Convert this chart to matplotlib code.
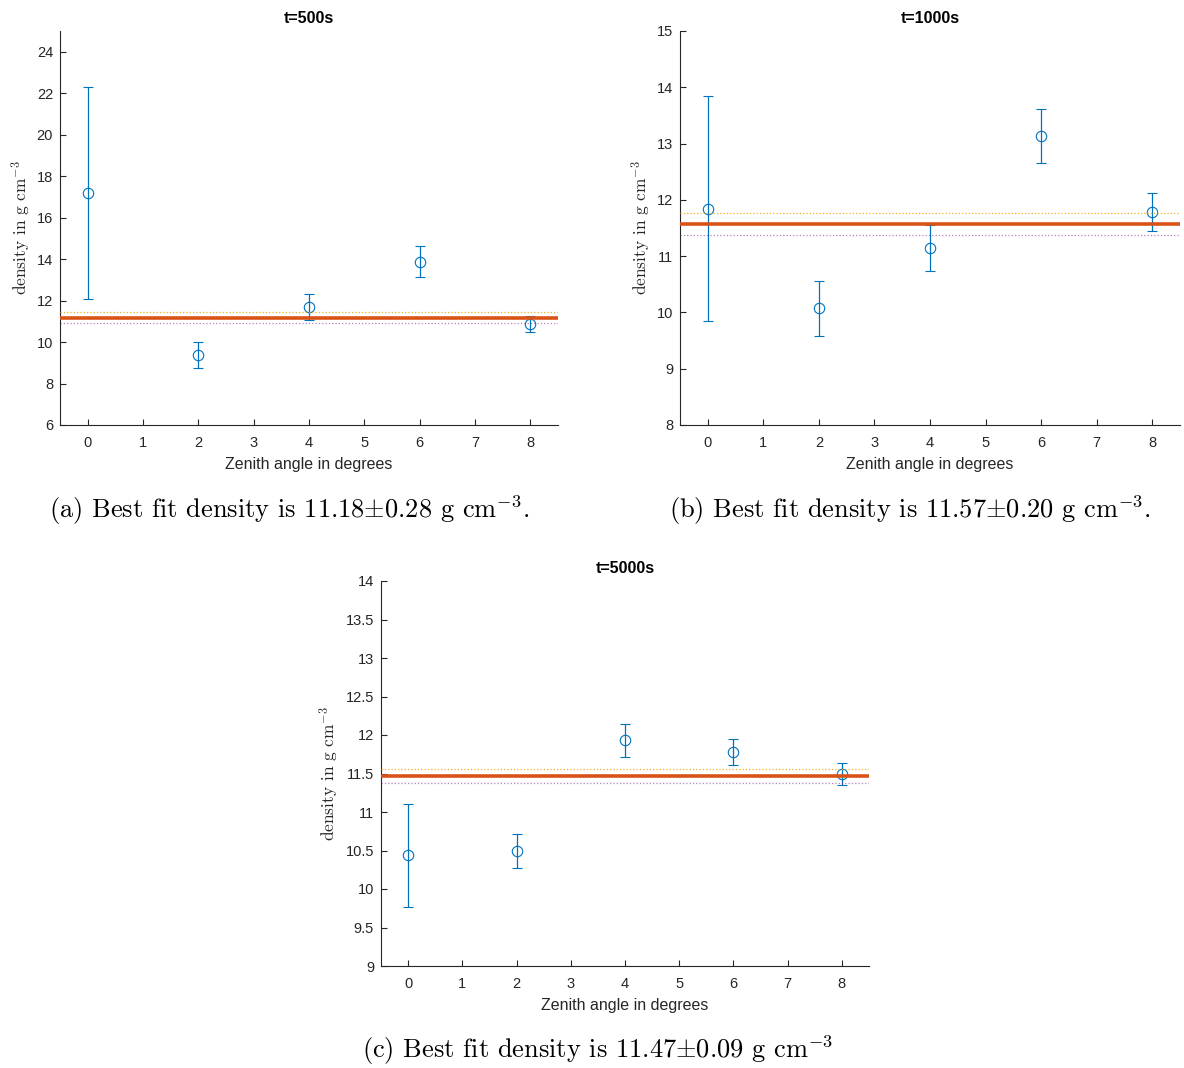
import matplotlib
matplotlib.use('Agg')

import numpy as np
import matplotlib.pyplot as plt

plt.rcParams['mathtext.fontset'] = 'cm'
plt.rcParams['font.family'] = ['Liberation Sans', 'DejaVu Sans']

# ─── Data ───
angles = [0, 2, 4, 6, 8]

titles = ['t=500s', 't=1000s', 't=5000s']

dens_500 = [17.2, 9.38, 11.7, 13.88, 10.88]
err_500 = [5.1, 0.63, 0.62, 0.73, 0.40]
fit_500, fit_err_500 = 11.18, 0.28

dens_1000 = [11.84, 10.07, 11.15, 13.14, 11.79]
err_1000 = [2.0, 0.49, 0.41, 0.48, 0.34]
fit_1000, fit_err_1000 = 11.57, 0.20

dens_5000 = [10.44, 10.49, 11.93, 11.78, 11.49]
err_5000 = [0.67, 0.22, 0.215, 0.17, 0.145]
fit_5000, fit_err_5000 = 11.47, 0.09

ylims = [(6, 25), (8, 15), (9, 14)]
yticks = [np.arange(6, 25, 2), np.arange(8, 15.1, 1), np.arange(9, 14.01, 0.5)]

captions = [
    r'(a) Best fit density is $11.18{\pm}0.28$ g cm$^{-3}$.',
    r'(b) Best fit density is $11.57{\pm}0.20$ g cm$^{-3}$.',
    r'(c) Best fit density is $11.47{\pm}0.09$ g cm$^{-3}$',
]

BLUE = '#0072BD'
ORANGE = '#D95319'
YELLOW = '#EDB120'
PURPLE = '#7E2F8E'
DARK = '#262626'

W, H = 1184, 1068
fig = plt.figure(figsize=(W / 100, H / 100), dpi=100)


def px_axes(left, top, right, bottom):
    return fig.add_axes([left / W, 1 - bottom / H, (right - left) / W, (bottom - top) / H])


boxes = [(60, 31, 558, 425), (680, 31, 1180, 425), (381, 581, 869, 966)]
series = [(dens_500, err_500, fit_500, fit_err_500),
          (dens_1000, err_1000, fit_1000, fit_err_1000),
          (dens_5000, err_5000, fit_5000, fit_err_5000)]

for box, (dens, err, fit, ferr), title, ylim, yt in zip(boxes, series, titles, ylims, yticks):
    ax = px_axes(*box)
    ax.errorbar(angles, dens, yerr=err, fmt='o', mfc='none', mec=BLUE, color=BLUE,
                ms=7.5, mew=0.8, elinewidth=0.9, capsize=3.6, capthick=0.9, zorder=2)
    ax.axhline(fit, color=ORANGE, lw=2.6, zorder=4)
    ax.axhline(fit + ferr, color=YELLOW, lw=0.9, ls=':', zorder=3)
    ax.axhline(fit - ferr, color=PURPLE, lw=0.9, ls=':', alpha=0.6, zorder=3)

    ax.set_xlim(-0.5, 8.5)
    ax.set_ylim(*ylim)
    ax.set_xticks(range(0, 9))
    ax.set_yticks(yt)
    if ylim[0] == 9:
        ax.set_yticklabels([f'{v:g}' for v in yt])
    ax.tick_params(direction='in', length=4, width=0.8, colors=DARK, labelsize=10.5)
    ax.tick_params(axis='x', pad=8)
    ax.tick_params(axis='y', pad=5)
    for side in ['top', 'right']:
        ax.spines[side].set_visible(False)
    for side in ['left', 'bottom']:
        ax.spines[side].set_color(DARK)
        ax.spines[side].set_linewidth(0.8)

    ax.set_title(title, fontsize=11.5, fontweight='bold', color='black', pad=6)
    ax.set_xlabel('Zenith angle in degrees', fontsize=11.5, color=DARK, labelpad=5)
    ax.set_ylabel(r'density in g cm$^{-3}$', fontsize=12.5, color=DARK,
                  family='cmr10', labelpad=3)

# captions under each panel
cap_pos = [(289, 510), (910, 510), (598, 1050)]
for (cx, cy), txt in zip(cap_pos, captions):
    fig.text(cx / W, 1 - cy / H, txt, ha='center', va='center', fontsize=19,
             family='cmr10', color='black')

fig.savefig('out.png', dpi=100)
plt.close(fig)
